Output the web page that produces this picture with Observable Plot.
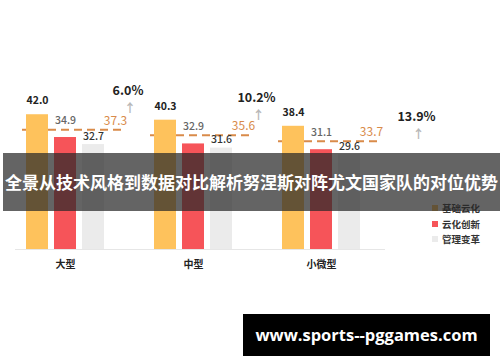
<!DOCTYPE html>
<html>
<head>
<meta charset="utf-8">
<script src="https://cdn.jsdelivr.net/npm/d3@7"></script>
<script src="https://cdn.jsdelivr.net/npm/@observablehq/plot@0.6"></script>
<style>
  html, body { margin: 0; padding: 0; background: #fff; }
  #wrap { position: relative; width: 500px; height: 362px; overflow: hidden; font-family: "Noto Sans CJK SC", "Noto Sans", sans-serif; }
  #chart { position: absolute; left: 0; top: 0; }
  #band { position: absolute; left: 3px; top: 153px; width: 497px; height: 58px; background: rgba(40,40,40,0.72);
          color: #fff; font-weight: 700; font-size: 17px; line-height: 58px; text-align: center; white-space: nowrap; }
  #legend { position: absolute; left: 432px; top: 201px; font-size: 9.5px; font-weight: 700; color: #333; }
  #legend div { height: 15.5px; line-height: 15.5px; white-space: nowrap; }
  #legend span.sw { display: inline-block; width: 6px; height: 6px; margin-right: 4px; vertical-align: middle; position: relative; top: -1px; }
  #wm { position: absolute; left: 243px; top: 314px; width: 247px; height: 42px; background: #000; color: #fff;
        font-family: "Open Sans", "DejaVu Sans", sans-serif; font-weight: 700; font-size: 16.5px; line-height: 42px; text-align: center; white-space: nowrap; }
</style>
</head>
<body>
<div id="wrap">
  <div id="chart"></div>
  <div id="legend"></div>
  <div id="band"></div>
  <div id="wm"></div>
</div>
<script>
// ---- data ----
const categories = ["大型", "中型", "小微型"];
const seriesNames = ["基础云化", "云化创新", "管理变革"];
const baseCloud = [42.0, 40.3, 38.4];
const cloudInnovation = [34.9, 32.9, 31.1];
const mgmtChange = [32.7, 31.6, 29.6];
const averages = [37.3, 35.6, 33.7];
const growth = ["6.0%", "10.2%", "13.9%"];
const titleText = "全景从技术风格到数据对比解析努涅斯对阵尤文国家队的对位优势";
const watermark = "www.sports--pggames.com";

// ---- styling ----
const colors = ["#FEC25C", "#F65459", "#EBEBEB"];
const labelColors = ["#222", "#666", "#333"];
const labelDy = [-14, -17, -8];
const growthDx = [-1.5, -1, 31];
const growthDy = [-39, -37, -24];

const seriesValues = [baseCloud, cloudInnovation, mgmtChange];
const rows = [];
categories.forEach((c, i) => seriesNames.forEach((s, j) => rows.push({cat: c, series: s, value: seriesValues[j][i], si: j})));
const avgRows = categories.map((c, i) => ({cat: c, avg: averages[i], growth: growth[i], gi: i}));

const marks = [
  // baseline
  Plot.ruleY([{cat: categories[0]}], {fx: "cat", y: () => 0, stroke: "#e6e6e6", strokeWidth: 1, insetLeft: 14}),
  Plot.ruleY(categories.slice(1).map(c => ({cat: c})), {fx: "cat", y: () => 0, stroke: "#e6e6e6", strokeWidth: 1}),
  // average dashed lines (behind bars)
  Plot.ruleY(avgRows, {fx: "cat", y: "avg", stroke: "#D98B4A", strokeWidth: 2, strokeDasharray: "8,5", insetLeft: 21, insetRight: 4}),
  Plot.barY(rows, {fx: "cat", x: "series", y: "value", fill: "series"}),
  // average labels
  Plot.text(avgRows, {fx: "cat", y: "avg", text: d => d.avg.toFixed(1), frameAnchor: "right", dx: -14, dy: -9, fill: "#D98B4A", fontSize: 12, textAnchor: "middle"}),
  // category labels
  Plot.text(categories, {fx: d => d, text: d => d, frameAnchor: "bottom", dy: 18, fontSize: 10, fontWeight: 700, fill: "#222"})
];
seriesNames.forEach((s, j) => {
  marks.push(Plot.text(rows.filter(r => r.si === j), {fx: "cat", x: "series", y: "value", text: d => d.value.toFixed(1),
    dy: labelDy[j], fontSize: 10.5, fontWeight: j === 0 ? 700 : 500, fill: labelColors[j]}));
});
avgRows.forEach((r, i) => {
  marks.push(Plot.text([r], {fx: "cat", y: "avg", text: "growth", frameAnchor: "right", dx: growthDx[i], dy: growthDy[i],
    fontSize: 12.5, fontWeight: 700, fill: "#222", textAnchor: "middle"}));
  marks.push(Plot.text([r], {fx: "cat", y: "avg", text: () => "↑", frameAnchor: "right", dx: growthDx[i] + 2, dy: growthDy[i] + 18,
    fontSize: 12, fontWeight: 700, fill: "#b8b8b8", textAnchor: "middle"}));
});

const chart = Plot.plot({
  width: 500,
  height: 362,
  marginTop: 0,
  marginLeft: 0,
  marginRight: 114.25,
  marginBottom: 113,
  style: {fontFamily: "'Noto Sans CJK SC', 'Noto Sans', sans-serif", background: "#fff"},
  fx: {domain: categories, padding: 0, axis: null},
  x: {domain: seriesNames, paddingInner: 0.228, paddingOuter: 0.87, axis: null},
  y: {domain: [0, 77.6], axis: null},
  color: {domain: seriesNames, range: colors},
  marks
});
document.getElementById("chart").appendChild(chart);

// legend
const lg = document.getElementById("legend");
seriesNames.forEach((s, j) => {
  const d = document.createElement("div");
  const sw = document.createElement("span");
  sw.className = "sw"; sw.style.background = colors[j];
  d.appendChild(sw);
  d.appendChild(document.createTextNode(s));
  lg.appendChild(d);
});
document.getElementById("band").textContent = titleText;
document.getElementById("wm").textContent = watermark;
</script>
</body>
</html>
